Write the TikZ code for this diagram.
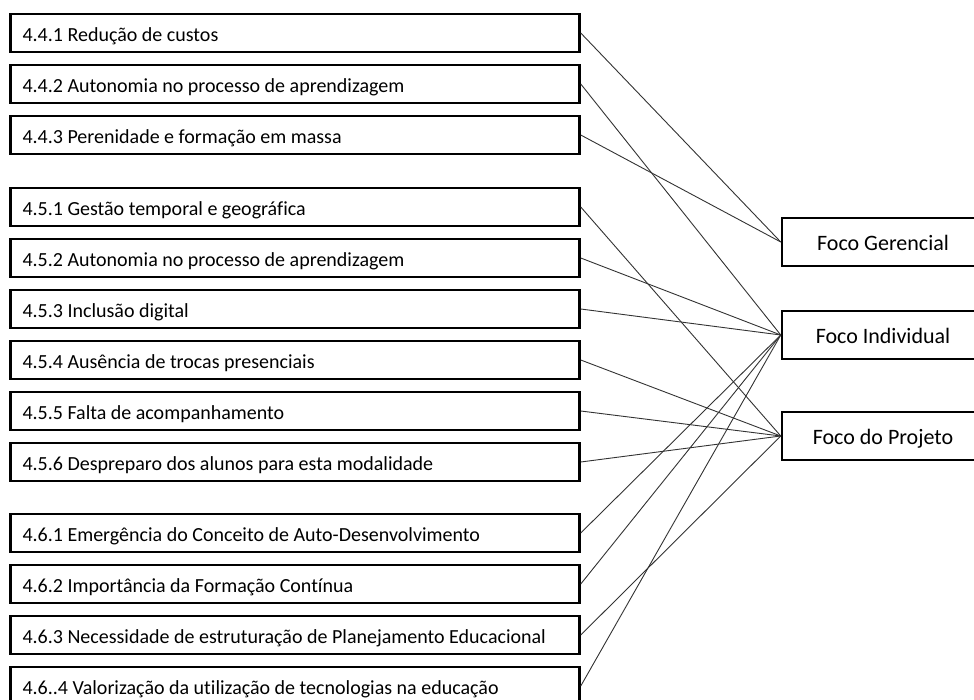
\documentclass[tikz,border=0pt]{standalone}
\usepackage{fontspec}
\setmainfont[Ligatures=NoCommon]{Carlito}
\usepackage{tikz}
\usetikzlibrary{positioning}

\begin{document}
\begin{tikzpicture}[
    x=1pt, y=-1pt,
    node distance=10.5pt,
    box/.style={draw, line width=2.5pt, minimum height=38pt, text width=545pt, inner xsep=12pt, align=flush left, text height=17pt, text depth=0pt, font=\fontsize{20pt}{24pt}\selectfont},
    focus/.style={draw, line width=2.5pt, minimum width=202pt, minimum height=48pt, align=center, text height=16.5pt, text depth=0pt, font=\fontsize{22pt}{26pt}\selectfont},
    link/.style={line width=0.9pt, black!80}
]
\useasboundingbox (0,0) rectangle (974,700);

% Nodes
\node[box] (custos) at (295,33) {4.4.1 Redução de custos};
\node[box, below=of custos] (autonomia) {4.4.2 Autonomia no processo de aprendizagem};
\node[box, below=of autonomia] (perenidade) {4.4.3 Perenidade e formação em massa};

\node[box, below=31.5pt of perenidade] (gestao) {4.5.1 Gestão temporal e geográfica};
\node[box, below=of gestao] (autonomiaead) {4.5.2 Autonomia no processo de aprendizagem};
\node[box, below=of autonomiaead] (inclusao) {4.5.3 Inclusão digital};
\node[box, below=of inclusao] (ausencia) {4.5.4 Ausência de trocas presenciais};
\node[box, below=of ausencia] (falta) {4.5.5 Falta de acompanhamento};
\node[box, below=of falta] (despreparo) {4.5.6 Despreparo dos alunos para esta modalidade};

\node[box, below=30.5pt of despreparo] (emergencia) {4.6.1 Emergência do Conceito de Auto-Desenvolvimento};
\node[box, below=of emergencia] (importancia) {4.6.2 Importância da Formação Contínua};
\node[box, below=of importancia] (necessidade) {4.6.3 Necessidade de estruturação de Planejamento Educacional};
\node[box, below=of necessidade] (valorizacao) {4.6..4 Valorização da utilização de tecnologias na educação};

\node[focus] (gerencial) at (883,242) {Foco Gerencial};
\node[focus] (individual) at (883,335) {Foco Individual};
\node[focus] (projeto) at (883,436) {Foco do Projeto};

% Lines
\draw[link] (custos.east) -- (gerencial.west);
\draw[link] (autonomia.east) -- (individual.west);
\draw[link] (perenidade.east) -- (gerencial.west);
\draw[link] (gestao.east) -- (projeto.west);
\draw[link] (autonomiaead.east) -- (individual.west);
\draw[link] (inclusao.east) -- (individual.west);
\draw[link] (ausencia.east) -- (projeto.west);
\draw[link] (falta.east) -- (projeto.west);
\draw[link] (despreparo.east) -- (projeto.west);
\draw[link] (emergencia.east) -- (individual.west);
\draw[link] (importancia.east) -- (individual.west);
\draw[link] (necessidade.east) -- (projeto.west);
\draw[link] (valorizacao.east) -- (individual.west);

\end{tikzpicture}
\end{document}
